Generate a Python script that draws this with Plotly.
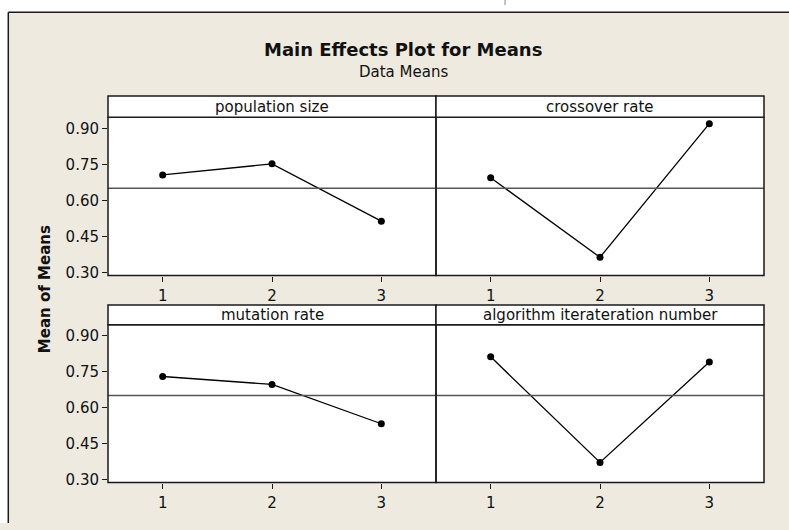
import plotly.graph_objects as go

# Factor levels and mean responses for each factor
levels = [1, 2, 3]
factor_names = ["population size", "crossover rate", "mutation rate",
                "algorithm iterateration number"]
pop_size = [0.707, 0.753, 0.515]
crossover = [0.695, 0.365, 0.920]
mutation = [0.731, 0.698, 0.534]
iterations = [0.813, 0.373, 0.791]
grand_mean = 0.652
y_ticks = [0.30, 0.45, 0.60, 0.75, 0.90]

series = [pop_size, crossover, mutation, iterations]

W, H = 789, 530
FONT = "DejaVu Sans"
BG = "#EEEAE0"
INK = "#1a1a1a"


def px_x(v):
    return v / W


def px_y(v):
    return 1 - v / H


# panel geometry (pixels)
cols = [(108, 436), (436, 764)]
rows = [(118.7, 279.3, 97.3), (329.0, 489.0, 309.0)]  # top, bottom, strip top

fig = go.Figure()
layout = dict(
    width=W, height=H,
    margin=dict(l=0, r=0, t=0, b=0),
    paper_bgcolor=BG,
    plot_bgcolor="white",
    showlegend=False,
    font=dict(family=FONT, size=15, color="#111"),
)

shapes = [
    # white margin outside the outer frame
    dict(type="rect", xref="paper", yref="paper",
         x0=0, x1=1, y0=px_y(12.3), y1=1,
         fillcolor="white", line=dict(width=0), layer="below"),
    dict(type="rect", xref="paper", yref="paper",
         x0=0, x1=px_x(8.3), y0=0, y1=1,
         fillcolor="white", line=dict(width=0), layer="below"),
    # outer frame edges
    dict(type="line", xref="paper", yref="paper",
         x0=px_x(8.3), x1=1, y0=px_y(12.3), y1=px_y(12.3),
         line=dict(color=INK, width=1.5)),
    dict(type="line", xref="paper", yref="paper",
         x0=px_x(8.3), x1=px_x(8.3), y0=0, y1=px_y(12.3),
         line=dict(color=INK, width=1.5)),
    dict(type="line", xref="paper", yref="paper",
         x0=px_x(505), x1=px_x(505), y0=1.0, y1=px_y(5),
         line=dict(color="#888", width=1)),
]
annotations = []

for i, vals in enumerate(series):
    r, c = divmod(i, 2)
    n = i + 1
    xa = "xaxis" if n == 1 else f"xaxis{n}"
    ya = "yaxis" if n == 1 else f"yaxis{n}"
    xr = "x" if n == 1 else f"x{n}"
    yr = "y" if n == 1 else f"y{n}"
    x0, x1 = cols[c]
    top, bot, stop = rows[r]

    layout[xa] = dict(
        domain=[px_x(x0), px_x(x1)], anchor=yr, range=[0.5, 3.5],
        tickvals=levels, ticks="outside", ticklen=5, tickwidth=1.3,
        tickcolor=INK, ticklabelstandoff=1, showline=False,
        showgrid=False, zeroline=False, fixedrange=True,
        tickfont=dict(family=FONT, size=15, color="#111"),
    )
    layout[ya] = dict(
        domain=[px_y(bot), px_y(top)], anchor=xr, range=[0.289, 0.947],
        tickvals=y_ticks, tickformat=".2f",
        ticks="outside" if c == 0 else "", ticklen=5, tickwidth=1.3,
        tickcolor=INK, showticklabels=(c == 0), showline=False,
        showgrid=False, zeroline=False, fixedrange=True,
        tickfont=dict(family=FONT, size=15, color="#111"),
    )

    # grand mean reference line
    shapes.append(dict(type="line", xref=f"{xr} domain", yref=yr,
                       x0=0, x1=1, y0=grand_mean, y1=grand_mean,
                       line=dict(color="#555", width=1.4)))
    # panel frame
    shapes.append(dict(type="rect", xref="paper", yref="paper",
                       x0=px_x(x0), x1=px_x(x1), y0=px_y(bot), y1=px_y(top),
                       line=dict(color=INK, width=1.5)))
    # facet strip
    shapes.append(dict(type="rect", xref="paper", yref="paper",
                       x0=px_x(x0), x1=px_x(x1), y0=px_y(top), y1=px_y(stop),
                       fillcolor="white", line=dict(color=INK, width=1.5)))
    annotations.append(dict(
        text=factor_names[i], xref="paper", yref="paper",
        x=px_x((x0 + x1) / 2), y=px_y((top + stop) / 2),
        xanchor="center", yanchor="middle", showarrow=False,
        font=dict(family=FONT, size=15, color="#111"),
    ))

    fig.add_trace(go.Scatter(
        x=levels, y=vals, xaxis=xr, yaxis=yr, mode="lines+markers",
        line=dict(color="black", width=1.3),
        marker=dict(color="black", size=7),
        hoverinfo="x+y",
    ))

annotations += [
    dict(text="<b>Main Effects Plot for Means</b>", xref="paper", yref="paper",
         x=px_x(403.3), y=px_y(50.5), xanchor="center", yanchor="middle",
         showarrow=False, font=dict(family=FONT, size=18, color="#111")),
    dict(text="Data Means", xref="paper", yref="paper",
         x=px_x(403.5), y=px_y(72.7), xanchor="center", yanchor="middle",
         showarrow=False, font=dict(family=FONT, size=15, color="#111")),
    dict(text="<b>Mean of Means</b>", xref="paper", yref="paper",
         x=px_x(45), y=px_y(293), xanchor="center", yanchor="middle",
         textangle=-90, showarrow=False,
         font=dict(family=FONT, size=15, color="#111")),
]

layout["shapes"] = shapes
layout["annotations"] = annotations
fig.update_layout(**layout)

fig.write_html("out.html")
